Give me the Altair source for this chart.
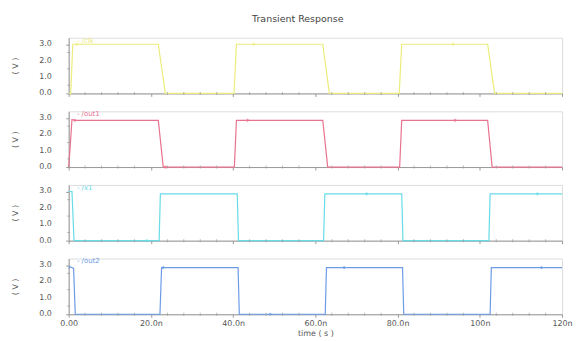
import altair as alt
import pandas as pd

# ---- data (time in ns, voltage in V) ----
names = ["- /clk", "- /out1", "- /x1", "- /out2"]
colors = ["#ecec7c", "#e8728f", "#68dbe8", "#6c9be6"]

t_clk = [0, 0.5, 1.0, 21.8, 23.5, 40.2, 40.8, 61.8, 63.4, 80.4, 81.0, 101.9, 103.6, 120]
v_clk = [0, 0, 3.0, 3.0, 0, 0, 3.0, 3.0, 0, 0, 3.0, 3.0, 0, 0]

t_out1 = [0, 0.3, 0.8, 1.5, 21.8, 23.0, 40.3, 40.8, 61.8, 63.0, 80.5, 81.0, 101.9, 103.0, 120]
v_out1 = [0, 1.0, 2.9, 2.85, 2.85, 0, 0, 2.85, 2.85, 0, 0, 2.85, 2.85, 0, 0]

t_x1 = [0, 0.8, 1.3, 22.0, 22.3, 41.0, 41.3, 62.0, 62.3, 81.0, 81.3, 102.2, 102.5, 120]
v_x1 = [3.0, 3.0, 0, 0, 2.85, 2.85, 0, 0, 2.85, 2.85, 0, 0, 2.85, 2.85]

t_out2 = [0, 0.3, 1.2, 1.6, 22.2, 22.6, 41.2, 41.5, 62.4, 62.7, 81.2, 81.5, 102.5, 102.8, 120]
v_out2 = [2.8, 2.9, 2.8, 0, 0, 2.85, 2.85, 0, 0, 2.85, 2.85, 0, 0, 2.85, 2.85]

# marker positions (time, value) per series
mk_t = [[2.0, 45.0, 93.5], [1.5, 43.5, 94.0, 23.5], [72.5, 114.0, 19.0], [23.0, 67.0, 115.0, 49.0]]
mk_v = [[3.0, 3.0, 3.0], [2.85, 2.85, 2.85, 0.0], [2.85, 2.85, 0.0], [2.85, 2.85, 2.85, 0.0]]

major_values = [0, 20, 40, 60, 80, 100, 120]
major_labels = ["0.00", "20.0n", "40.0n", "60.0n", "80.0n", "100n", "120n"]
minor_x = [v for v in range(0, 121, 4) if v % 20 != 0]
y_major = [0, 1, 2, 3]
y_labels = ["0.0", "1.0", "2.0", "3.0"]
y_minor = [0.5, 1.5, 2.5]

series_t = [t_clk, t_out1, t_x1, t_out2]
series_v = [v_clk, v_out1, v_x1, v_out2]

label_expr = " : ".join(
    f"datum.value == {v} ? '{l}'" for v, l in zip(major_values, major_labels)
) + " : ''"

FONT = "DejaVu Sans"
GRAY = "#999999"
TXT = "#555555"
W, H = 496, 56
panels = []
for i in range(4):
    df = pd.DataFrame({"t": series_t[i], "v": series_v[i]})
    mdf = pd.DataFrame({"t": mk_t[i], "v": mk_v[i]})
    ldf = pd.DataFrame({"t": [2.0], "v": [3.22], "name": [names[i]]})
    xmin = pd.DataFrame({"t": minor_x, "v": [0.0] * len(minor_x)})
    ymin = pd.DataFrame({"t": [0.0] * len(y_minor), "v": y_minor})
    ylab = pd.DataFrame({"v": y_major, "lab": y_labels})
    last = i == 3
    xaxis = alt.Axis(
        values=major_values,
        labelExpr=label_expr,
        labels=last,
        title="time ( s )" if last else None,
        tickSize=3,
        tickColor=GRAY,
        domainColor=GRAY,
        labelFontSize=8,
        labelColor=TXT,
        labelFont=FONT,
        titleFont=FONT,
        titleFontSize=8,
        titleFontWeight="normal",
        titleColor=TXT,
        titlePadding=2,
        labelPadding=2,
        labelFlush=False,
        labelOverlap=False,
        grid=False,
    )
    yaxis = alt.Axis(
        values=y_major,
        labels=False,
        title="( V )",
        tickSize=3,
        tickColor=GRAY,
        domainColor=GRAY,
        titleFont=FONT,
        titleFontSize=8,
        titleFontWeight="normal",
        titleColor=TXT,
        titlePadding=46,
        grid=False,
    )
    xs = alt.Scale(domain=[0, 120], nice=False)
    ys = alt.Scale(domain=[0, 3.4], nice=False, zero=False)
    line = alt.Chart(df).mark_line(color=colors[i], strokeWidth=1.2).encode(
        x=alt.X("t:Q", scale=xs, axis=xaxis),
        y=alt.Y("v:Q", scale=ys, axis=yaxis),
    )
    xt = alt.Chart(xmin).mark_tick(
        color=GRAY, orient="vertical", size=3, thickness=1
    ).encode(x=alt.X("t:Q", scale=xs), y=alt.Y("v:Q", scale=ys))
    yt = alt.Chart(ymin).mark_tick(
        color=GRAY, orient="horizontal", size=3, thickness=1
    ).encode(x=alt.X("t:Q", scale=xs), y=alt.Y("v:Q", scale=ys))
    yl = alt.Chart(ylab).mark_text(
        color=TXT, fontSize=8, font=FONT, align="right", baseline="middle"
    ).encode(x=alt.value(-17), y=alt.Y("v:Q", scale=ys), text="lab:N")
    pts = alt.Chart(mdf).mark_point(
        color=colors[i], shape="diamond", size=14, filled=True
    ).encode(x=alt.X("t:Q", scale=xs), y=alt.Y("v:Q", scale=ys))
    txt = alt.Chart(ldf).mark_text(
        color=colors[i], fontSize=7, font=FONT, align="left", baseline="middle"
    ).encode(x=alt.X("t:Q", scale=xs), y=alt.Y("v:Q", scale=ys), text="name:N")
    panels.append(
        alt.layer(line, xt, yt, yl, pts, txt).properties(width=W, height=H)
    )

chart = (
    alt.vconcat(*panels, spacing=11)
    .properties(
        title=alt.TitleParams(
            "Transient Response",
            fontSize=9.5,
            font=FONT,
            fontWeight="normal",
            color="#444444",
            anchor="middle",
            offset=13,
            dx=6,
        ),
        padding={"left": 3, "top": 4, "right": 0, "bottom": 0},
    )
    .configure_view(stroke=None)
    .configure(background="white")
)

chart.save("out.html", embed_options={"renderer": "svg", "actions": False})
